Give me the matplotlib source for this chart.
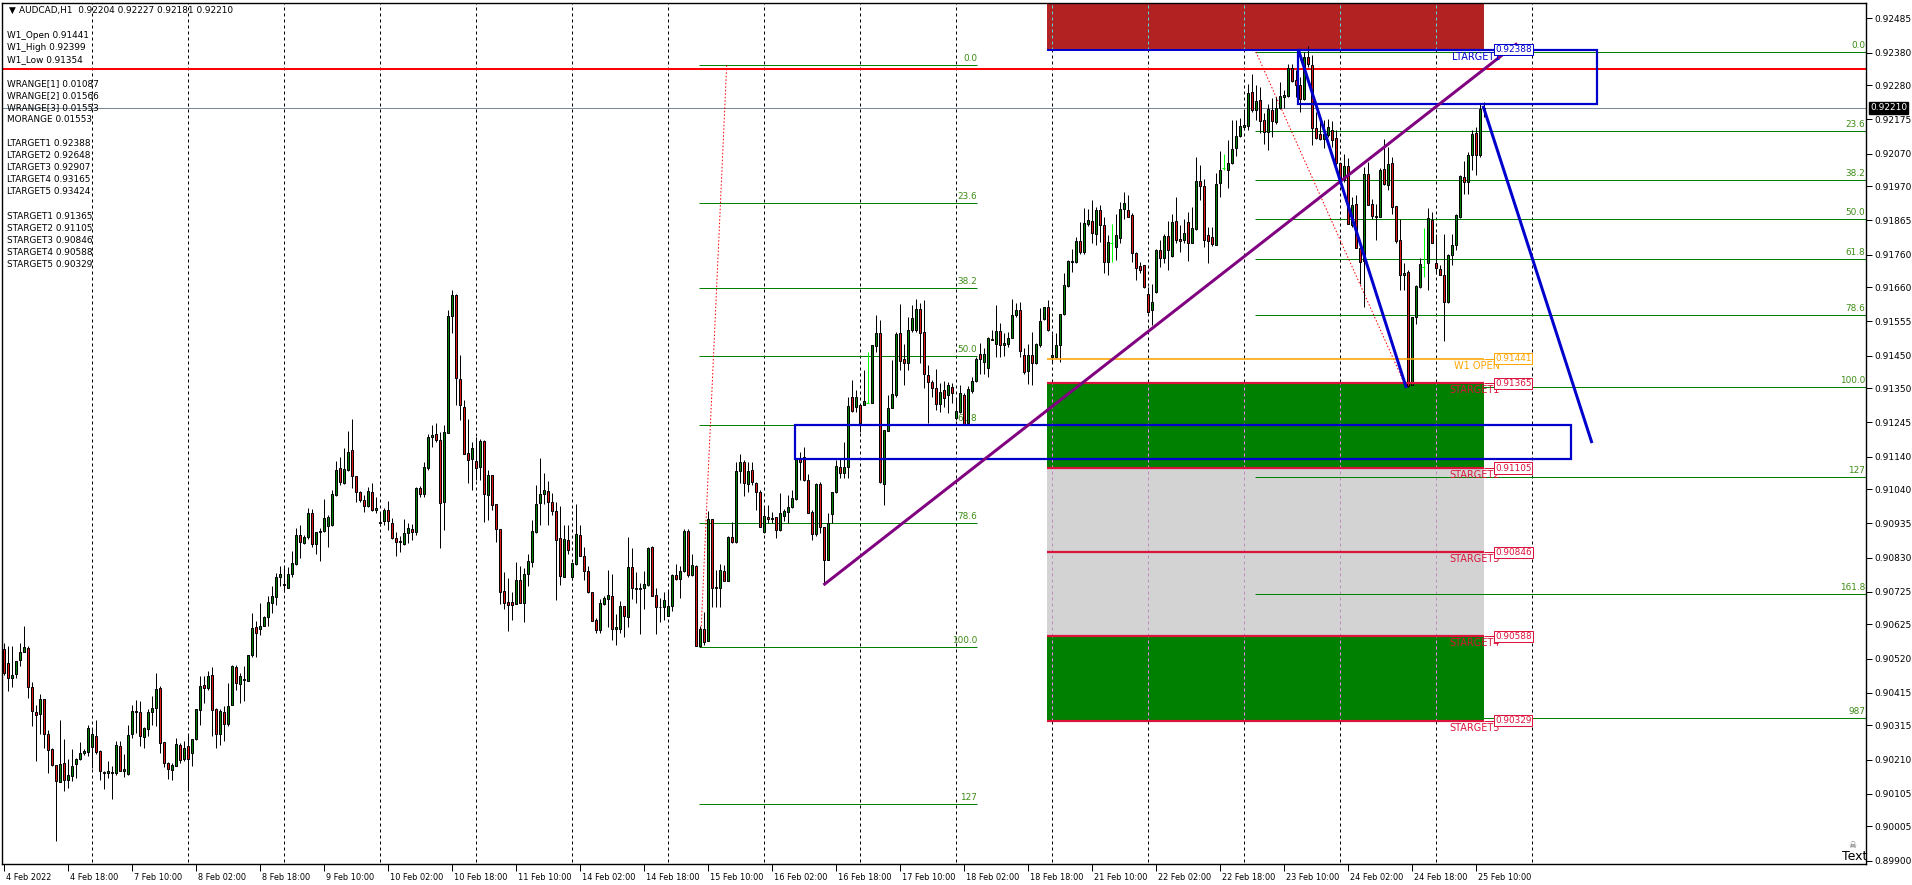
import numpy as np
import pandas as pd
import matplotlib

matplotlib.use('Agg')
from matplotlib import pyplot as plt
from matplotlib.patches import Rectangle
from matplotlib.transforms import ScaledTranslation

# AUDCAD H1 bars, prices in points (1e-5), first bar 4 Feb 2022 02:00
opens = [
    90550, 90507, 90461, 90474, 90515, 90540, 90553, 90433, 90356, 90351, 90396, 90289, 90243, 90195, 90142, 90200,
    90149, 90161, 90197, 90213, 90231, 90234, 90249, 90282, 90236, 90172, 90170, 90172, 90169, 90253, 90174, 90167,
    90289, 90358, 90356, 90280, 90305, 90356, 90369, 90430, 90264, 90200, 90177, 90192, 90255, 90212, 90251, 90229,
    90272, 90362, 90439, 90430, 90470, 90366, 90289, 90356, 90320, 90378, 90493, 90443, 90458, 90451, 90532, 90617,
    90611, 90619, 90647, 90691, 90709, 90770, 90750, 90736, 90781, 90811, 90900, 90875, 90892, 90967, 90872, 90910,
    90912, 90928, 90931, 91022, 91104, 91059, 91099, 91161, 91081, 91030, 91007, 90989, 91030, 90977, 90938, 90941,
    90977, 90936, 90890, 90877, 90872, 90905, 90918, 90908, 91043, 91025, 91105, 91200, 91209, 91190, 91000, 91212,
    91572, 91636, 91379, 91292, 91150, 91133, 91127, 91107, 91188, 91021, 91084, 90994, 90918, 90728, 90693, 90693,
    90689, 90762, 90692, 90780, 90818, 90910, 90997, 91025, 91035, 91002, 90974, 90890, 90772, 90885, 90770, 90810,
    90900, 90836, 90790, 90724, 90640, 90609, 90688, 90703, 90713, 90612, 90612, 90682, 90648, 90801, 90737, 90734,
    90737, 90747, 90864, 90716, 90680, 90677, 90652, 90683, 90778, 90764, 90788, 90912, 90778, 90805, 90560, 90612,
    90573, 90948, 90737, 90737, 90790, 90757, 90893, 90878, 91097, 91123, 91056, 91099, 91060, 91032, 90908, 90954,
    90948, 90954, 90915, 90958, 90969, 90986, 91010, 91135, 91138, 91068, 90971, 90902, 91056, 90925, 90823, 90963,
    91030, 91109, 91091, 91109, 91324, 91293, 91298, 91298, 91306, 91303, 91480, 91518, 91056, 91219, 91288, 91329,
    91518, 91441, 91428, 91528, 91528, 91594, 91521, 91390, 91370, 91350, 91301, 91344, 91329, 91353, 91259, 91278,
    91329, 91242, 91341, 91372, 91456, 91431, 91413, 91500, 91487, 91525, 91482, 91487, 91505, 91576, 91589, 91451,
    91402, 91451, 91428, 91482, 91561, 91598, 91446, 91446, 91484, 91577, 91663, 91736, 91738, 91801, 91768, 91855,
    91862, 91824, 91896, 91852, 91738, 91794, 91784, 91812, 91901, 91898, 91881, 91765, 91724, 91727, 91639, 91590,
    91646, 91773, 91750, 91816, 91755, 91864, 91809, 91806, 91861, 91797, 91837, 91985, 91970, 91820, 91814, 91789,
    91980, 92025, 92021, 92042, 92088, 92123, 92150, 92154, 92259, 92203, 92233, 92172, 92136, 92203, 92167, 92211,
    92244, 92247, 92334, 92295, 92279, 92238, 92366, 92341, 92149, 92129, 92116, 92126, 92141, 92119, 92041, 91990,
    92031, 91850, 91914, 91779, 91740, 92008, 91916, 91878, 91875, 92024, 91973, 92041, 91908, 91806, 91697, 91707,
    91360, 91567, 91661, 91723, 91733, 91866, 91735, 91717, 91698, 91613, 91758, 91789, 91876, 91998, 91983, 92065,
    92133, 92067, 92204,
]
highs = [
    90568, 90558, 90558, 90512, 90568, 90621, 90560, 90448, 90379, 90413, 90396, 90302, 90246, 90195, 90333, 90274,
    90213, 90243, 90215, 90264, 90243, 90317, 90307, 90333, 90241, 90174, 90207, 90190, 90267, 90267, 90226, 90317,
    90379, 90394, 90389, 90310, 90364, 90404, 90476, 90435, 90264, 90202, 90200, 90276, 90261, 90267, 90287, 90272,
    90366, 90466, 90466, 90482, 90494, 90369, 90364, 90374, 90445, 90499, 90501, 90476, 90496, 90532, 90660, 90634,
    90691, 90652, 90711, 90742, 90783, 90803, 90803, 90801, 90849, 90921, 90931, 90900, 90983, 90979, 90910, 90922,
    91010, 90961, 91038, 91125, 91138, 91166, 91219, 91256, 91081, 91033, 91023, 91046, 91058, 91016, 90967, 90982,
    91005, 90951, 90910, 90895, 90949, 90936, 90934, 91046, 91050, 91122, 91210, 91237, 91243, 91217, 91237, 91590,
    91651, 91639, 91452, 91314, 91254, 91186, 91201, 91193, 91191, 91099, 91084, 90994, 90918, 90786, 90768, 90726,
    90816, 90803, 90798, 90842, 90944, 91053, 91135, 91089, 91066, 91028, 91002, 90988, 90931, 90931, 90815, 90995,
    90931, 90864, 90805, 90724, 90645, 90703, 90713, 90793, 90780, 90657, 90696, 90682, 90892, 90859, 90786, 90752,
    90788, 90864, 90866, 90737, 90706, 90726, 90732, 90781, 90811, 90803, 90918, 90918, 90842, 90808, 90619, 90663,
    90974, 90948, 90793, 90811, 90808, 90895, 90938, 91124, 91149, 91130, 91124, 91124, 91063, 91038, 90988, 90992,
    90971, 90956, 91027, 90978, 91022, 91038, 91135, 91155, 91170, 91086, 90976, 91058, 91063, 90925, 90966, 91030,
    91130, 91135, 91186, 91322, 91375, 91344, 91300, 91405, 91462, 91484, 91574, 91559, 91221, 91329, 91436, 91523,
    91608, 91487, 91569, 91605, 91625, 91610, 91622, 91421, 91375, 91408, 91367, 91373, 91370, 91365, 91318, 91360,
    91334, 91356, 91385, 91446, 91488, 91472, 91508, 91530, 91605, 91549, 91518, 91523, 91625, 91610, 91613, 91472,
    91487, 91523, 91490, 91597, 91600, 91620, 91516, 91518, 91579, 91702, 91743, 91778, 91814, 91860, 91904, 91901,
    91927, 91906, 91911, 91875, 91819, 91855, 91886, 91922, 91953, 91942, 91888, 91768, 91738, 91727, 91661, 91671,
    91778, 91804, 91822, 91863, 91883, 91937, 91851, 91868, 91891, 91906, 92058, 92034, 91993, 91845, 91845, 92011,
    92078, 92070, 92111, 92172, 92172, 92180, 92203, 92284, 92313, 92279, 92274, 92193, 92221, 92239, 92244, 92289,
    92264, 92346, 92346, 92325, 92305, 92382, 92399, 92371, 92198, 92187, 92172, 92177, 92170, 92141, 92044, 92068,
    92055, 91937, 91942, 91794, 92030, 92044, 91932, 91916, 92027, 92116, 92090, 92060, 91908, 91870, 91733, 91712,
    91567, 91666, 91749, 91840, 91902, 91891, 91822, 91728, 91822, 91763, 91823, 91886, 92005, 92046, 92075, 92141,
    92152, 92223, 92227,
]
lows = [
    90471, 90420, 90433, 90461, 90496, 90540, 90399, 90312, 90205, 90289, 90246, 90169, 90190, 89960, 90142, 90115,
    90123, 90144, 90154, 90210, 90223, 90221, 90185, 90226, 90149, 90120, 90154, 90088, 90164, 90174, 90156, 90164,
    90277, 90292, 90251, 90246, 90282, 90317, 90312, 90231, 90187, 90152, 90147, 90190, 90200, 90205, 90113, 90192,
    90270, 90317, 90384, 90425, 90282, 90246, 90256, 90267, 90314, 90378, 90425, 90384, 90389, 90451, 90525, 90525,
    90594, 90619, 90619, 90660, 90685, 90743, 90726, 90736, 90772, 90808, 90829, 90872, 90887, 90864, 90840, 90819,
    90910, 90864, 90928, 91019, 91053, 91056, 91097, 91043, 91002, 91002, 90969, 90985, 90972, 90967, 90926, 90931,
    90916, 90887, 90834, 90846, 90870, 90875, 90885, 90900, 91016, 91016, 91099, 91171, 91184, 90859, 90916, 91212,
    91518, 91299, 91253, 91147, 91059, 91036, 91069, 91069, 90938, 90946, 90977, 90877, 90689, 90673, 90604, 90638,
    90689, 90691, 90631, 90742, 90801, 90905, 90931, 90995, 90931, 90961, 90701, 90747, 90772, 90840, 90760, 90808,
    90834, 90762, 90721, 90634, 90599, 90599, 90686, 90616, 90576, 90561, 90599, 90586, 90616, 90703, 90691, 90596,
    90673, 90744, 90711, 90595, 90631, 90640, 90650, 90667, 90762, 90706, 90785, 90772, 90775, 90558, 90555, 90561,
    90573, 90680, 90680, 90680, 90757, 90757, 90875, 90875, 91059, 91018, 91032, 91053, 90976, 90925, 90905, 90935,
    90935, 90889, 90913, 90941, 90937, 90981, 91007, 91068, 91066, 90966, 90884, 90897, 90905, 90746, 90823, 90935,
    91027, 91073, 91073, 91073, 91278, 91278, 91216, 91298, 91303, 91303, 91462, 91058, 90992, 91219, 91288, 91324,
    91405, 91359, 91405, 91523, 91523, 91426, 91352, 91242, 91324, 91283, 91278, 91293, 91273, 91303, 91252, 91273,
    91237, 91242, 91334, 91370, 91395, 91395, 91385, 91497, 91446, 91446, 91448, 91477, 91505, 91569, 91446, 91395,
    91364, 91359, 91424, 91477, 91559, 91526, 91431, 91443, 91431, 91574, 91661, 91707, 91733, 91763, 91761, 91848,
    91794, 91789, 91799, 91702, 91697, 91738, 91743, 91794, 91868, 91874, 91738, 91681, 91704, 91656, 91580, 91543,
    91641, 91722, 91733, 91712, 91753, 91794, 91768, 91794, 91741, 91794, 91835, 91927, 91784, 91733, 91786, 91789,
    91937, 92019, 91965, 92039, 92062, 92121, 92141, 92141, 92198, 92172, 92133, 92100, 92080, 92121, 92162, 92208,
    92211, 92244, 92290, 92244, 92198, 92233, 92336, 92096, 92116, 92111, 92088, 92121, 92090, 92030, 91978, 91983,
    91855, 91845, 91779, 91671, 91600, 91911, 91870, 91804, 91874, 91973, 91958, 91886, 91794, 91651, 91651, 91355,
    91360, 91547, 91656, 91692, 91651, 91796, 91700, 91696, 91494, 91610, 91728, 91773, 91871, 91947, 91945, 92019,
    92003, 92060, 92181,
]
closes = [
    90476, 90461, 90470, 90512, 90540, 90556, 90433, 90358, 90348, 90396, 90289, 90241, 90193, 90144, 90197, 90149,
    90164, 90192, 90213, 90229, 90238, 90307, 90290, 90234, 90174, 90170, 90175, 90169, 90256, 90174, 90180, 90287,
    90358, 90356, 90282, 90307, 90356, 90369, 90427, 90261, 90200, 90182, 90195, 90258, 90208, 90246, 90212, 90272,
    90366, 90437, 90430, 90468, 90362, 90289, 90358, 90320, 90376, 90496, 90445, 90466, 90454, 90532, 90614, 90599,
    90621, 90648, 90695, 90713, 90770, 90781, 90746, 90781, 90813, 90900, 90877, 90892, 90967, 90871, 90910, 90912,
    90951, 90954, 91025, 91099, 91062, 91102, 91154, 91079, 91031, 91007, 90987, 91033, 90977, 90982, 90935, 90977,
    90941, 90890, 90877, 90882, 90905, 90921, 90910, 91043, 91025, 91108, 91200, 91207, 91190, 90997, 91215, 91572,
    91636, 91381, 91297, 91147, 91130, 91166, 91105, 91188, 91025, 91084, 90990, 90918, 90726, 90691, 90686, 90686,
    90762, 90692, 90781, 90820, 90912, 90995, 91025, 91038, 91002, 90972, 90883, 90775, 90888, 90852, 90813, 90902,
    90834, 90788, 90724, 90634, 90609, 90691, 90706, 90716, 90612, 90616, 90682, 90650, 90801, 90737, 90734, 90737,
    90750, 90859, 90713, 90680, 90677, 90701, 90682, 90778, 90764, 90790, 90912, 90778, 90806, 90560, 90612, 90571,
    90948, 90737, 90739, 90791, 90757, 90893, 90878, 91096, 91123, 91059, 91097, 91063, 91032, 90925, 90958, 90948,
    90951, 90915, 90966, 90973, 90986, 91012, 91135, 91124, 91068, 90968, 90903, 91056, 90925, 90823, 90935, 91030,
    91111, 91091, 91109, 91295, 91281, 91324, 91242, 91310, 91306, 91484, 91518, 91063, 91221, 91288, 91332, 91516,
    91434, 91428, 91528, 91564, 91592, 91518, 91392, 91370, 91350, 91301, 91339, 91321, 91360, 91336, 91281, 91334,
    91240, 91346, 91372, 91438, 91438, 91456, 91503, 91497, 91525, 91484, 91490, 91503, 91576, 91589, 91465, 91400,
    91451, 91428, 91485, 91556, 91598, 91528, 91451, 91484, 91577, 91668, 91740, 91740, 91801, 91768, 91857, 91865,
    91826, 91896, 91852, 91738, 91799, 91794, 91819, 91901, 91919, 91876, 91765, 91720, 91712, 91661, 91585, 91615,
    91773, 91750, 91816, 91773, 91861, 91804, 91802, 91825, 91794, 91840, 91986, 91970, 91804, 91802, 91791, 91978,
    92021, 92025, 92041, 92085, 92123, 92154, 92157, 92257, 92205, 92230, 92170, 92136, 92206, 92170, 92211, 92246,
    92249, 92334, 92293, 92279, 92238, 92366, 92346, 92147, 92119, 92116, 92129, 92150, 92111, 92041, 91983, 92031,
    91855, 91911, 91779, 91738, 92008, 91911, 91878, 91876, 92021, 91976, 92039, 91906, 91802, 91697, 91702, 91357,
    91567, 91663, 91730, 91723, 91871, 91796, 91720, 91698, 91613, 91758, 91789, 91881, 92000, 91983, 92065, 92131,
    92067, 92207, 92210,
]

# levels from the indicator panel
w1_open, w1_high, w1_low = 0.91441, 0.92399, 0.91354
wranges = [0.01087, 0.01566, 0.01553]
morange = 0.01553
ltargets = [0.92388, 0.92648, 0.92907, 0.93165, 0.93424]
stargets = [0.91365, 0.91105, 0.90846, 0.90588, 0.90329]
bid = 0.92210
red_level = 0.92329
last_ohlc = [0.92204, 0.92227, 0.92181, 0.92210]

# fibonacci objects: (bar from, bar to, price 0%, price 100%)
fib_left = (173.9, 243.4, 0.92341, 0.90555)
fib_left_levels = [0.0, 23.6, 38.2, 50.0, 61.8, 78.6, 100.0, 127.0]
fib_left_text = ['0.0', '23.6', '38.2', '50.0', '61.8', '78.6', '100.0', '127']
fib_left_diag = [(174.2, 0.90555), (180.8, 0.92341)]
fib_right = (312.9, 470.0, 0.92382, 0.91354)
fib_right_levels = [0.0, 23.6, 38.2, 50.0, 61.8, 78.6, 100.0, 127.0, 161.8, 198.7]
fib_right_text = ['0.0', '23.6', '38.2', '50.0', '61.8', '78.6', '100.0', '127', '161.8', '987']
fib_right_diag = [(313.1, 0.92382), (350.6, 0.91354)]

# drawn objects
zone_bars = (260.9, 370.0)
blue_rect_top = (323.6, 398.4, 0.92222, 0.92388)
blue_rect_low = (197.8, 391.9, 0.91134, 0.91238)
purple_line = [(205.0, 0.90746), (378.4, 0.92408)]
blue_leg1 = [(323.8, 0.92386), (350.6, 0.91355)]
blue_leg2 = [(370.0, 0.92212), (397.0, 0.91186)]

price_ticks = [0.92485, 0.92380, 0.92280, 0.92175, 0.92070, 0.91970, 0.91865, 0.91760, 0.91660,
               0.91555, 0.91450, 0.91350, 0.91245, 0.91140, 0.91040, 0.90935, 0.90830, 0.90725,
               0.90625, 0.90520, 0.90415, 0.90315, 0.90210, 0.90105, 0.90005, 0.89900]

o = np.array(opens) / 1e5
h = np.array(highs) / 1e5
l = np.array(lows) / 1e5
c = np.array(closes) / 1e5
x = np.arange(len(c))

# bar times, weekends skipped
times = []
t = pd.Timestamp('2022-02-04 02:00')
while len(times) < 390:
    if t.weekday() < 5:
        times.append(t)
    t += pd.Timedelta(hours=1)

W, H = 1912, 885
X0, X1, Y0, Y1 = 2, 1866, 3, 864
PX = 0.72  # one pixel in points

fig = plt.figure(figsize=(W / 100, H / 100), dpi=100)
ax = fig.add_axes([X0 / W, 1 - Y1 / H, (X1 - X0) / W, (Y1 - Y0) / H])
ax.set_xlim(-0.375, 465.625)
ax.set_ylim(0.898898, 0.925320)
for s in ax.spines.values():
    s.set_linewidth(1.0)

BULL, BEAR = '#008000', '#e01818'
BLUE = '#0000cd'
CRIMSON = '#dc143c'
ORANGE = '#ffa500'
FONT = 6.4

# grid on day starts
day_starts = [i for i, tt in enumerate(times) if tt.hour == 0 and i <= 382]
ax.vlines(day_starts, 0.8, 1.0, color='black', lw=PX, linestyles=(0, (3, 3)), zorder=0.5)

# target zones
z0, z1 = zone_bars
zones = [(ltargets[0], ltargets[1], '#b22222', '#4ddddd'),
         (stargets[1], stargets[0], '#008000', '#ff80ff'),
         (stargets[3], stargets[1], '#d3d3d3', '#c08cc0'),
         (stargets[4], stargets[3], '#008000', '#ff80ff')]
for lo, hi, fc, gc in zones:
    ax.add_patch(Rectangle((z0, lo), z1 - z0, hi - lo, fc=fc, ec='none', zorder=1))
    dd = [d for d in day_starts if z0 < d < z1]
    ax.vlines(dd, lo, min(hi, 0.9254), color=gc, lw=PX, linestyles=(0, (3, 3)), zorder=1.1)

# horizontal lines
ax.axhline(red_level, color='red', lw=2 * PX, zorder=2)
ax.axhline(bid, color='#778899', lw=PX, zorder=2)


def draw_fib(fib, levels, texts, diag, label_x):
    a, b, p0, p100 = fib
    for lv, tx in zip(levels, texts):
        p = p0 - (p0 - p100) * lv / 100.0
        ax.hlines(p, a, b, color='#008000', lw=PX, zorder=2)
        ax.annotate(tx, xy=(label_x, p), xytext=(0, 2), textcoords='offset pixels',
                    ha='right', va='bottom', fontsize=FONT, color='#3c8c14', zorder=2,
                    annotation_clip=False)
    (xa, ya), (xb, yb) = diag
    ax.plot([xa, xb], [ya, yb], color='red', lw=PX, linestyle=(0, (1.5, 2)), zorder=2)


draw_fib(fib_left, fib_left_levels, fib_left_text, fib_left_diag, fib_left[1])
draw_fib(fib_right, fib_right_levels, fib_right_text, fib_right_diag, 465.4)

# candles
up = c > o
dn = c < o
dj = c == o
ax.vlines(x[~dj], l[~dj], h[~dj], color='black', lw=PX, zorder=3)
ax.bar(x[up], (c - o)[up], bottom=o[up], width=0.5, color=BULL, edgecolor='black', lw=PX, zorder=3.5)
ax.bar(x[dn], (o - c)[dn], bottom=c[dn], width=0.5, color=BEAR, edgecolor='black', lw=PX, zorder=3.5)
ax.vlines(x[dj], l[dj], h[dj], color='#00ff00', lw=PX, zorder=3.5)
ax.hlines(o[dj], x[dj] - 0.3, x[dj] + 0.3, color='#00ff00', lw=PX, zorder=3.5)

# target lines with price tags
lab_x = 372.6


def target(price, name, col, lw):
    ax.hlines(price, z0, z1, color=col, lw=lw, zorder=4)
    ax.hlines(price, z1, lab_x, color=col, lw=PX, zorder=4)
    ax.annotate(f'{price:.5f}', xy=(lab_x, price), xytext=(1, 0), textcoords='offset pixels',
                ha='left', va='center', fontsize=FONT, color=col, zorder=7,
                bbox=dict(boxstyle='square,pad=0.12', fc='white', ec=col, lw=PX))
    ax.annotate(name, xy=(lab_x, price), xytext=(6, -7), textcoords='offset pixels',
                ha='right', va='center', fontsize=FONT + 0.6, color=col, zorder=6)


target(ltargets[0], 'LTARGET1', BLUE, 2 * PX)
target(w1_open, 'W1 OPEN', ORANGE, 1.6 * PX)
for i, p in enumerate(stargets):
    target(p, f'STARGET{i + 1}', CRIMSON, 2.2 * PX)

# rectangles and trend lines
for a, b, lo, hi in (blue_rect_top, blue_rect_low):
    ax.add_patch(Rectangle((a, lo), b - a, hi - lo, fc='none', ec=BLUE, lw=2.2 * PX, zorder=5))
ax.plot(*zip(*purple_line), color='#800080', lw=3 * PX, zorder=5, solid_capstyle='butt')
ax.plot(*zip(*blue_leg1), color=BLUE, lw=3 * PX, zorder=5)
ax.plot(*zip(*blue_leg2), color=BLUE, lw=3 * PX, zorder=5)

# price axis
ax.yaxis.tick_right()
ax.set_yticks(price_ticks)
ax.set_yticklabels([f'{v:.5f}' for v in price_ticks])
ax.tick_params(axis='y', direction='out', length=4, width=PX, labelsize=6.5, pad=2)
ax.annotate(f'{bid:.5f}', xy=(1, bid), xycoords=('axes fraction', 'data'), xytext=(4, 0),
            textcoords='offset pixels', ha='left', va='center', fontsize=6.5, color='white',
            bbox=dict(boxstyle='square,pad=0.15', fc='black', ec='black'), zorder=10,
            annotation_clip=False)

# time axis
tick_idx = list(range(0, len(c), 16))
tick_lab = [times[0].strftime('%-d %b %Y')] + [times[i].strftime('%-d %b %H:%M') for i in tick_idx[1:]]
ax.set_xticks(tick_idx)
ax.set_xticklabels(tick_lab, ha='left')
ax.tick_params(axis='x', direction='out', length=5, width=PX, labelsize=5.9, pad=1.5)
for lb in ax.get_xticklabels():
    lb.set_transform(lb.get_transform() + ScaledTranslation(2 / 100, 0, fig.dpi_scale_trans))


# info panel
def ptext(px, py, s, **kw):
    fig.text(px / W, 1 - py / H, s, va='center', ha='left', fontsize=FONT, zorder=0.4, **kw)


ptext(9, 10.7, '\u25bc')
ptext(19, 10.7, 'AUDCAD,H1  ' + ' '.join(f'{v:.5f}' for v in last_ohlc))
info = [f'W1_Open {w1_open:.5f}', f'W1_High {w1_high:.5f}', f'W1_Low {w1_low:.5f}', '']
info += [f'WRANGE[{i + 1}] {v:.5f}' for i, v in enumerate(wranges)] + [f'MORANGE {morange:.5f}', '']
info += [f'LTARGET{i + 1} {v:.5f}' for i, v in enumerate(ltargets)] + ['']
info += [f'STARGET{i + 1} {v:.5f}' for i, v in enumerate(stargets)]
for k, s in enumerate(info):
    if s:
        ptext(7, 35.3 + 12.05 * k, s)

# text object with icon
ptext(1848, 846, '\u2620', color='#555555')
fig.text(1842 / W, 1 - 857 / H, 'Text', fontsize=9, va='center', ha='left')

fig.savefig('out.png', dpi=100)
